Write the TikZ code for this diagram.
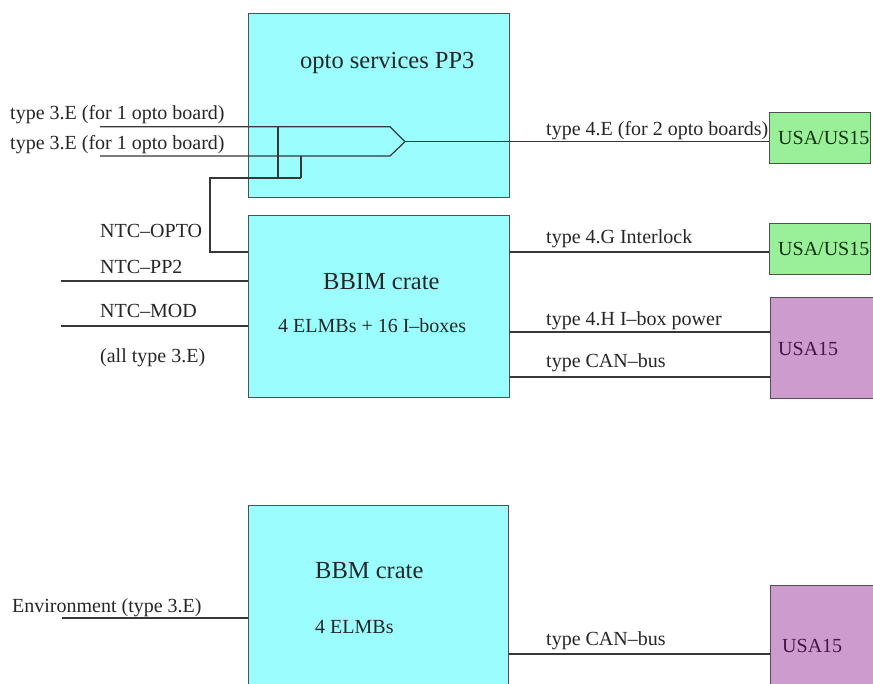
\documentclass[tikz,border=0pt]{standalone}
\usepackage{fontspec}
\setmainfont{Liberation Serif}
\definecolor{cratecyan}{RGB}{155,253,253}
\definecolor{usagreen}{RGB}{153,240,153}
\definecolor{usapurple}{RGB}{206,155,206}
\definecolor{wiregray}{RGB}{55,55,55}
\definecolor{edgegray}{RGB}{80,80,80}
\definecolor{greentext}{RGB}{20,50,20}
\definecolor{purpletext}{RGB}{70,20,70}
\begin{document}
\begin{tikzpicture}[x=1pt,y=-1pt,
  cable/.style={draw=wiregray,line width=1.2pt},
  crate/.style={draw=edgegray,line width=1.3pt,fill=cratecyan,rectangle,inner sep=0pt,anchor=north west},
  greenbox/.style={draw=edgegray,line width=1.2pt,fill=usagreen,rectangle,inner sep=0pt,anchor=north west},
  purplebox/.style={draw=edgegray,line width=1.2pt,fill=usapurple,rectangle,inner sep=0pt,anchor=north west},
  lbl/.style={anchor=base west,inner sep=0pt,text=black!85,font=\fontsize{20}{24}\selectfont},
  title/.style={anchor=base west,inner sep=0pt,text=black!85,font=\fontsize{24.5}{28}\selectfont},
  usalbl/.style={anchor=base west,inner sep=0pt,font=\fontsize{20}{24}\selectfont}]
\useasboundingbox (0,0) rectangle (873,684);
\clip (0,0) rectangle (873,684);
\fill[white] (0,0) rectangle (873,684);

% crates
\node[crate,minimum width=261pt,minimum height=184pt] (pp3) at (248,13) {};
\node[crate,minimum width=261pt,minimum height=182pt] (bbim) at (248,215) {};
\node[crate,minimum width=260pt,minimum height=200pt] (bbm) at (248,505) {};

% destination boxes
\node[greenbox,minimum width=101pt,minimum height=51pt] (usa1) at (769,112) {};
\node[greenbox,minimum width=101pt,minimum height=51pt] (usa2) at (769,223) {};
\node[purplebox,minimum width=120pt,minimum height=101pt] (usa3) at (770,297) {};
\node[purplebox,minimum width=120pt,minimum height=120pt] (usa4) at (770,585) {};

% texts inside the boxes
\node[title] (tpp3) at (300,69) {opto services PP3};
\node[title] (tbbim) at (323,290) {BBIM crate};
\node[lbl] (tbbim2) at (278,333) {4 ELMBs + 16 I--boxes};
\node[title] (tbbm) at (315,578) {BBM crate};
\node[lbl] (tbbm2) at (315,633) {4 ELMBs};
\node[usalbl,text=greentext] (tusa1) at (778,145) {USA/US15};
\node[usalbl,text=greentext] (tusa2) at (778,256) {USA/US15};
\node[usalbl,text=purpletext] (tusa3) at (778,356) {USA15};
\node[usalbl,text=purpletext] (tusa4) at (782,652) {USA15};

% cable labels
\node[lbl] (la) at (10,120) {type 3.E (for 1 opto board)};
\node[lbl] (lb) at (10,150) {type 3.E (for 1 opto board)};
\node[lbl] (lc) at (100,238) {NTC--OPTO};
\node[lbl] (ld) at (100,274) {NTC--PP2};
\node[lbl] (le) at (100,318) {NTC--MOD};
\node[lbl] (lf) at (100,363) {(all type 3.E)};
\node[lbl] (lg) at (12,612) {Environment (type 3.E)};
\node[lbl] (lh) at (546,136) {type 4.E (for 2 opto boards)};
\node[lbl] (li) at (546,244) {type 4.G Interlock};
\node[lbl] (lj) at (546,326) {type 4.H I--box power};
\node[lbl] (lk) at (546,368) {type CAN--bus};
\node[lbl] (ll) at (546,645) {type CAN--bus};

% cable end points and junctions
\coordinate (a0) at (100,126.7);
\coordinate (b0) at (100,156);
\coordinate (am) at (390,126.7);
\coordinate (bm) at (390,156);
\coordinate (mrg) at (405,141.7);
\coordinate (ja) at (278,126.7);
\coordinate (jb) at (301,156);
\coordinate (jc) at (278,178);
\coordinate (jd) at (301,178);
\coordinate (je) at (210,178);
\coordinate (jf) at (210,252);
\coordinate (d0) at (61,281);
\coordinate (e0) at (61,326);
\coordinate (g0) at (62,618);

% opto cables merging into one
\draw[cable] (a0) -- (am) -- (mrg);
\draw[cable] (b0) -- (bm) -- (mrg);
\draw[cable] (mrg) -- (usa1.west |- mrg);

% NTC-OPTO tap
\draw[cable] (ja) -- (jc);
\draw[cable] (jb) -- (jd);
\draw[cable] (jd) -- (je) -- (jf) -- (bbim.west |- jf);

% inputs to the crates
\draw[cable] (d0) -- (bbim.west |- d0);
\draw[cable] (e0) -- (bbim.west |- e0);
\draw[cable] (g0) -- (bbm.west |- g0);

% outputs of the crates
\draw[cable] (bbim.east |- 0,252) -- (usa2.west |- 0,252);
\draw[cable] (bbim.east |- 0,332) -- (usa3.west |- 0,332);
\draw[cable] (bbim.east |- 0,377) -- (usa3.west |- 0,377);
\draw[cable] (bbm.east |- 0,654) -- (usa4.west |- 0,654);
\end{tikzpicture}
\end{document}
